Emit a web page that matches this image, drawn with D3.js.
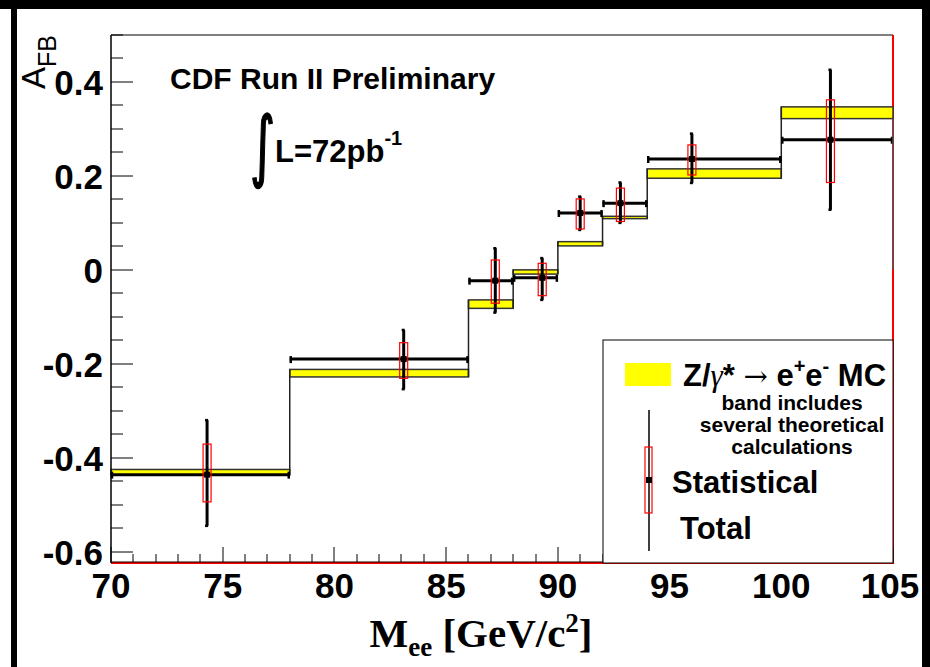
<!DOCTYPE html>
<meta charset="utf-8">
<head>
<style>
body { margin: 0; background: #fff; }
svg { display: block; }
.tick-label { font: bold 35px "Liberation Sans", Arial, sans-serif; fill: #000; }
.note { font-family: "Liberation Sans", Arial, sans-serif; font-weight: bold; fill: #000; }
</style>
</head>
<body>
<svg width="930" height="667"></svg>
<script src="https://d3js.org/d3.v7.min.js"></script>
<script>

// bin edges of the mass bins (GeV/c^2)
var edges = [70, 78, 86, 88, 90, 92, 94, 100, 105];
// Z/gamma* -> ee MC band, low / high edge per bin
var mcLo = [-0.437, -0.228, -0.082, -0.009, 0.051, 0.109, 0.195, 0.322];
var mcHi = [-0.425, -0.212, -0.064, 0.000, 0.060, 0.114, 0.215, 0.347];
// measured A_FB
var massPts = [74.3, 83.1, 87.2, 89.3, 91.0, 92.8, 96.0, 102.2];
var afb = [-0.436, -0.190, -0.023, -0.017, 0.121, 0.142, 0.236, 0.277];
var totLo = [-0.545, -0.254, -0.091, -0.064, 0.085, 0.100, 0.185, 0.128];
var totHi = [-0.320, -0.128, 0.046, 0.025, 0.156, 0.186, 0.290, 0.426];
var statLo = [-0.494, -0.231, -0.071, -0.055, 0.087, 0.103, 0.202, 0.186];
var statHi = [-0.371, -0.155, 0.021, 0.014, 0.151, 0.174, 0.266, 0.362];

var yMajor = [-0.6, -0.4, -0.2, 0, 0.2, 0.4];
var xMajor = [70, 75, 80, 85, 90, 95, 100, 105];

var svg = d3.select("svg");
var x = d3.scaleLinear().domain([70, 105]).range([111, 893]);
var y = d3.scaleLinear().domain([-0.622, 0.5]).range([562, 35]);

// outer black frame
svg.append("rect").attr("x", 0).attr("y", 0).attr("width", 930).attr("height", 9).attr("fill", "#000");
svg.append("rect").attr("x", 11).attr("y", 0).attr("width", 6).attr("height", 667).attr("fill", "#000");
svg.append("rect").attr("x", 922).attr("y", 0).attr("width", 8).attr("height", 667).attr("fill", "#000");

// plot frame
svg.append("line").attr("x1", 111).attr("x2", 893).attr("y1", 35).attr("y2", 35).attr("stroke", "#000").attr("stroke-width", 1);
svg.append("line").attr("x1", 893).attr("x2", 893).attr("y1", 35).attr("y2", 563).attr("stroke", "#f00").attr("stroke-width", 2);
svg.append("line").attr("x1", 111).attr("x2", 894).attr("y1", 563).attr("y2", 563).attr("stroke", "#f00").attr("stroke-width", 2);

var bins = d3.range(mcLo.length);

// MC band
var g = svg.append("g");
g.selectAll(".band").data(bins).enter().append("rect")
    .attr("class", "band")
    .attr("x", function(i) { return x(edges[i]); })
    .attr("width", function(i) { return x(edges[i + 1]) - x(edges[i]); })
    .attr("y", function(i) { return y(mcHi[i]); })
    .attr("height", function(i) { return y(mcLo[i]) - y(mcHi[i]); })
    .attr("fill", "#ffff00")
    .attr("stroke", "#333")
    .attr("stroke-width", 1.5);

// step edges between bins
var steps = [];
for (var i = 1; i < mcLo.length; i++) {
  steps.push({ e: edges[i], lo: Math.min(mcLo[i - 1], mcLo[i]), hi: Math.max(mcHi[i - 1], mcHi[i]) });
}
g.selectAll(".step").data(steps).enter().append("line")
    .attr("x1", function(d) { return x(d.e); }).attr("x2", function(d) { return x(d.e); })
    .attr("y1", function(d) { return y(d.lo); }).attr("y2", function(d) { return y(d.hi); })
    .attr("stroke", "#222").attr("stroke-width", 1.5);

// axes
var yAxis = svg.append("g").attr("transform", "translate(111,0)");
yAxis.append("line").attr("x1", 0).attr("x2", 0).attr("y1", 35).attr("y2", 563).attr("stroke", "#000").attr("stroke-width", 1.5);
yAxis.selectAll(".ymin").data(d3.range(-0.6, 0.501, 0.05)).enter().append("line")
    .attr("x1", 0).attr("y1", function(d) { return Math.round(y(d)); }).attr("y2", function(d) { return Math.round(y(d)); })
    .attr("x2", function(d) { return Math.abs(d * 5 - Math.round(d * 5)) < 1e-6 ? 22 : 12; })
    .attr("stroke", "#000").attr("stroke-width", 1);
yAxis.selectAll(".ylab").data(yMajor).enter().append("text")
    .attr("class", "tick-label")
    .attr("x", -8).attr("y", function(d) { return y(d) + 13; })
    .attr("text-anchor", "end")
    .text(function(d) { return d === 0 ? "0" : d3.format(".1f")(d).replace("\u2212", "-"); });

var xAxis = svg.append("g").attr("transform", "translate(0,562)");
xAxis.append("line").attr("x1", 111).attr("x2", 893).attr("y1", 0).attr("y2", 0).attr("stroke", "#000").attr("stroke-width", 1);
xAxis.selectAll(".xmin").data(d3.range(70, 106, 1)).enter().append("line")
    .attr("x1", function(d) { return Math.round(x(d)); }).attr("x2", function(d) { return Math.round(x(d)); })
    .attr("y1", 0).attr("y2", function(d) { return d % 5 === 0 ? -15 : -8; })
    .attr("stroke", "#000").attr("stroke-width", 1);
xAxis.selectAll(".xlab").data(xMajor).enter().append("text")
    .attr("class", "tick-label")
    .attr("x", function(d) { return d === 105 ? x(d) - 3 : x(d); }).attr("y", 36)
    .attr("text-anchor", "middle")
    .text(function(d) { return d; });

// axis titles
var xt = svg.append("text").attr("x", 481).attr("y", 647).attr("text-anchor", "middle")
    .style("font", "bold 41px 'Liberation Serif', 'Times New Roman', serif");
xt.append("tspan").text("M");
xt.append("tspan").attr("dy", 9).style("font-size", "27px").text("ee");
xt.append("tspan").attr("dy", -9).text(" [GeV/c");
xt.append("tspan").attr("dy", -15).style("font-size", "27px").text("2");
xt.append("tspan").attr("dy", 15).text("]");

var yt = svg.append("text").attr("transform", "translate(45,35) rotate(-90)").attr("text-anchor", "end")
    .style("font", "33px 'Liberation Sans', Arial, sans-serif");
yt.append("tspan").text("A");
yt.append("tspan").attr("dy", 11).style("font-size", "25px").text("FB");

// data: total error, bin width, stat box, marker
var d = svg.append("g");
d.selectAll(".hbar").data(bins).enter().append("line")
    .attr("x1", function(i) { return x(edges[i]); }).attr("x2", function(i) { return x(edges[i + 1]); })
    .attr("y1", function(i) { return y(afb[i]); }).attr("y2", function(i) { return y(afb[i]); })
    .attr("stroke", "#000").attr("stroke-width", 3);
d.selectAll(".hcap").data(bins.concat(bins.map(function(i) { return -1 - i; }))).enter().append("line")
    .attr("x1", function(k) { return k >= 0 ? x(edges[k]) + 1 : x(edges[-k]) - 1; })
    .attr("x2", function(k) { return k >= 0 ? x(edges[k]) + 1 : x(edges[-k]) - 1; })
    .attr("y1", function(k) { var i = k >= 0 ? k : -1 - k; return y(afb[i]) - 3; })
    .attr("y2", function(k) { var i = k >= 0 ? k : -1 - k; return y(afb[i]) + 4; })
    .attr("stroke", "#000").attr("stroke-width", 2.5);
d.selectAll(".vbar").data(bins).enter().append("line")
    .attr("x1", function(i) { return x(massPts[i]); }).attr("x2", function(i) { return x(massPts[i]); })
    .attr("y1", function(i) { return y(totHi[i]); }).attr("y2", function(i) { return y(totLo[i]); })
    .attr("stroke", "#000").attr("stroke-width", 3);
d.selectAll(".vcapT").data(bins).enter().append("line")
    .attr("x1", function(i) { return x(massPts[i]) - 2; }).attr("x2", function(i) { return x(massPts[i]) + 1; })
    .attr("y1", function(i) { return y(totHi[i]); }).attr("y2", function(i) { return y(totHi[i]); })
    .attr("stroke", "#000").attr("stroke-width", 2.5);
d.selectAll(".vcapB").data(bins).enter().append("line")
    .attr("x1", function(i) { return x(massPts[i]) - 2; }).attr("x2", function(i) { return x(massPts[i]) + 1; })
    .attr("y1", function(i) { return y(totLo[i]); }).attr("y2", function(i) { return y(totLo[i]); })
    .attr("stroke", "#000").attr("stroke-width", 2.5);
d.selectAll(".stat").data(bins).enter().append("rect")
    .attr("x", function(i) { return x(massPts[i]) - 4; }).attr("width", 8)
    .attr("y", function(i) { return y(statHi[i]); })
    .attr("height", function(i) { return y(statLo[i]) - y(statHi[i]); })
    .attr("fill", "none").attr("stroke", "#f00").attr("stroke-width", 1.2);
d.selectAll(".mk").data(bins).enter().append("rect")
    .attr("x", function(i) { return x(massPts[i]) - 3; }).attr("y", function(i) { return y(afb[i]) - 3; })
    .attr("width", 6).attr("height", 6).attr("fill", "#000");

// the MC histogram drops back to zero at the last edge
svg.append("line").attr("x1", x(105)).attr("x2", x(105)).attr("y1", y(mcLo[7])).attr("y2", y(0))
    .attr("stroke", "#555").attr("stroke-width", 1.5);

// labels in the plot
svg.append("text").attr("class", "note").attr("x", 170).attr("y", 89).style("font-size", "30px")
    .text("CDF Run II Preliminary");
// narrow integral sign, squeezed so it stays left of the L
svg.append("text").attr("transform", "translate(250,172) scale(0.62,1)")
    .attr("stroke", "#000").attr("stroke-width", 1.6)
    .style("font", "78px 'DejaVu Sans', sans-serif").text("\u222B");
var lum = svg.append("text").attr("class", "note").attr("x", 275).attr("y", 162).style("font-size", "31px");
lum.append("tspan").text("L=72pb");
lum.append("tspan").attr("dy", -17).style("font-size", "20px").text("-1");

// legend
var lg = svg.append("g");
lg.append("rect").attr("x", 603).attr("y", 340).attr("width", 290).attr("height", 223)
    .attr("fill", "#fff").attr("stroke", "#000").attr("stroke-width", 1);
lg.append("rect").attr("x", 625).attr("y", 363).attr("width", 46).attr("height", 23).attr("fill", "#ffff00");
var lt = lg.append("text").attr("class", "note").attr("x", 683).attr("y", 386).style("font-size", "31px");
lt.append("tspan").text("Z/");
lt.append("tspan").style("font", "italic 31px 'Liberation Serif', serif").text("\u03B3");
lt.append("tspan").text("* ");
lt.append("tspan").style("font", "29px 'DejaVu Serif', serif").text("\u2192");
lt.append("tspan").text(" e");
lt.append("tspan").attr("dy", -13).style("font-size", "20px").text("+");
lt.append("tspan").attr("dy", 13).text("e");
lt.append("tspan").attr("dy", -13).style("font-size", "20px").text("-");
lt.append("tspan").attr("dy", 13).text(" MC");
["band includes", "several theoretical", "calculations"].forEach(function(s, k) {
  lg.append("text").attr("class", "note").attr("x", 792).attr("y", 410 + k * 22)
    .attr("text-anchor", "middle").style("font-size", "21px").text(s);
});
lg.append("line").attr("x1", 649).attr("x2", 649).attr("y1", 410).attr("y2", 551).attr("stroke", "#000").attr("stroke-width", 1.5);
lg.append("rect").attr("x", 645).attr("y", 447).attr("width", 7).attr("height", 66)
    .attr("fill", "none").attr("stroke", "#f00").attr("stroke-width", 1.2);
lg.append("rect").attr("x", 646).attr("y", 477).attr("width", 6).attr("height", 6).attr("fill", "#000");
lg.append("text").attr("class", "note").attr("x", 672).attr("y", 493).style("font-size", "31px").text("Statistical");
lg.append("text").attr("class", "note").attr("x", 680).attr("y", 539).style("font-size", "31px").text("Total");

</script>
</body>
</html>
